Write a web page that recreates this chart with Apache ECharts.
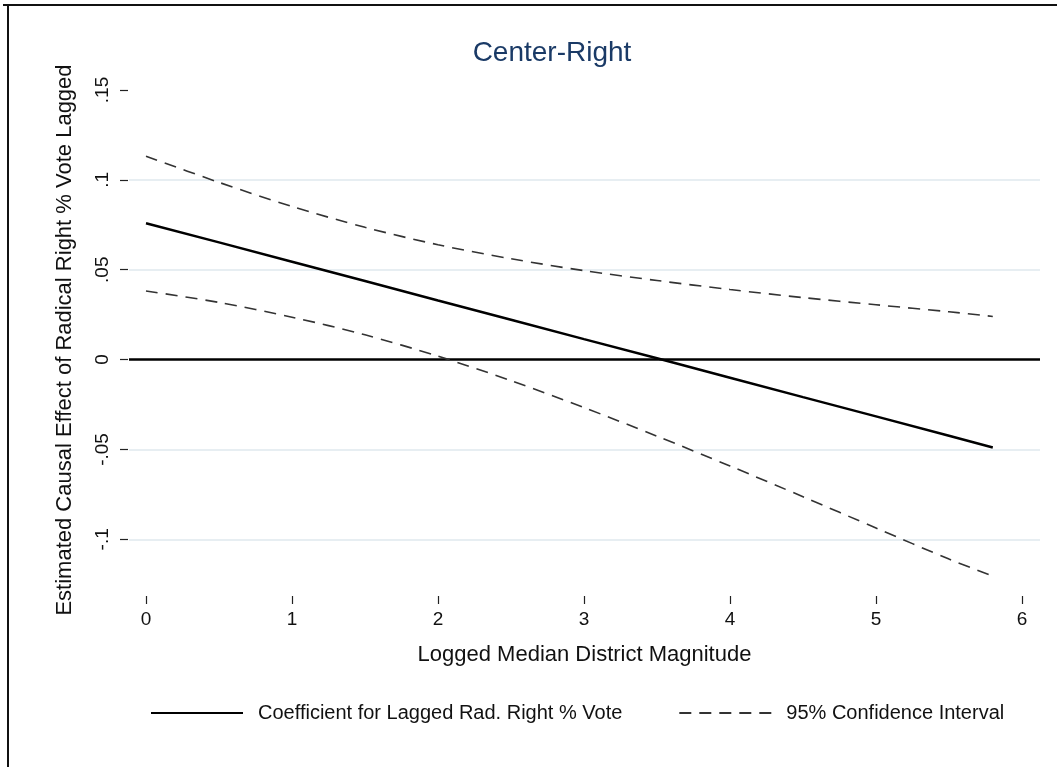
<!DOCTYPE html>
<html>
<head>
<meta charset="utf-8">
<script src="https://cdn.jsdelivr.net/npm/echarts@6/dist/echarts.min.js"></script>
<style>
html,body{margin:0;padding:0;background:#fff;}
#chart{width:1057px;height:767px;}
</style>
</head>
<body>
<div id="chart"></div>
<script>
// ---- data ----
const xValues   = [0, 0.5, 1, 1.5, 2, 2.5, 3, 3.5, 4, 4.5, 5, 5.5, 5.8];
const coef      = [0.0759, 0.0652, 0.0544, 0.0437, 0.0329, 0.0222, 0.0114, 0.0007, -0.0101, -0.0209, -0.0316, -0.0424, -0.0489];
const upperCI   = [0.1132, 0.0986, 0.0852, 0.0736, 0.0639, 0.0561, 0.0495, 0.0440, 0.0390, 0.0345, 0.0305, 0.0266, 0.0240];
const lowerCI   = [0.0382, 0.0318, 0.0236, 0.0138, 0.0019, -0.0117, -0.0267, -0.0426, -0.0592, -0.0763, -0.0937, -0.1110, -0.1205];
const xTicks    = [0, 1, 2, 3, 4, 5, 6];
const yTicks    = [-0.1, -0.05, 0, 0.05, 0.1, 0.15];
const yTickText = ['-.1', '-.05', '0', '.05', '.1', '.15'];
const gridValues = [-0.1, -0.05, 0.05, 0.1];

const FONT = '"Liberation Sans", Arial, Helvetica, sans-serif';
const pairs = (ys) => xValues.map((x, i) => [x, ys[i]]);

const chart = echarts.init(document.getElementById('chart'), null, {renderer: 'canvas'});
chart.setOption({
  animation: false,
  backgroundColor: '#ffffff',
  title: {
    text: 'Center-Right',
    left: 547,
    textAlign: 'center',
    top: 34,
    textStyle: {fontFamily: FONT, fontSize: 28, fontWeight: 'normal', color: '#1a3a66'}
  },
  graphic: [
    {type: 'line', shape: {x1: 3, y1: 5, x2: 1057, y2: 5}, style: {stroke: '#111', lineWidth: 2}, silent: true},
    {type: 'line', shape: {x1: 8, y1: 4, x2: 8, y2: 767}, style: {stroke: '#111', lineWidth: 2}, silent: true}
  ],
  grid: {left: 129, right: 17, top: 90, bottom: 177, containLabel: false},
  legend: {
    left: 145,
    top: 698,
    itemWidth: 92,
    itemHeight: 14,
    itemGap: 56,
    itemStyle: {opacity: 0},
    textStyle: {fontFamily: FONT, fontSize: 20, color: '#111', padding: [0, 0, 0, 10]},
    data: ['Coefficient for Lagged Rad. Right % Vote', '95% Confidence Interval']
  },
  xAxis: {
    type: 'value',
    min: -0.1164,
    max: 6.1233,
    offset: 6,
    axisLine: {show: false, onZero: false},
    axisTick: {show: true, length: 8, customValues: xTicks, lineStyle: {color: '#222', width: 1.2}},
    axisLabel: {customValues: xTicks, margin: 14, fontFamily: FONT, fontSize: 19, color: '#111'},
    splitLine: {show: false},
    name: 'Logged Median District Magnitude',
    nameLocation: 'middle',
    nameGap: 48,
    nameTextStyle: {fontFamily: FONT, fontSize: 22, color: '#111'}
  },
  yAxis: {
    type: 'value',
    min: -0.1282,
    max: 0.15,
    offset: 1,
    axisLine: {show: false, onZero: false},
    axisTick: {show: true, length: 8, customValues: yTicks, lineStyle: {color: '#222', width: 1.2}},
    axisLabel: {
      customValues: yTicks,
      rotate: 90,
      margin: 16,
      fontFamily: FONT, fontSize: 19, color: '#111',
      formatter: (v) => {
        const i = yTicks.findIndex(t => Math.abs(t - v) < 1e-9);
        return i >= 0 ? yTickText[i] : '';
      }
    },
    splitLine: {show: false},
    name: 'Estimated Causal Effect of Radical Right % Vote Lagged',
    nameLocation: 'middle',
    nameRotate: 90,
    nameGap: 52,
    nameTextStyle: {fontFamily: FONT, fontSize: 22, color: '#111'}
  },
  series: [
    {
      name: '__grid',
      type: 'line',
      data: [],
      silent: true,
      markLine: {
        z: 1,
        silent: true,
        symbol: ['none', 'none'],
        label: {show: false},
        data: gridValues.map(v => ({yAxis: v, lineStyle: {color: '#dfe8ee', width: 1.5, type: 'solid'}}))
          .concat([{yAxis: 0, lineStyle: {color: '#000', width: 2.5, type: 'solid'}}])
      }
    },
    {
      name: 'Coefficient for Lagged Rad. Right % Vote',
      type: 'line',
      data: pairs(coef),
      showSymbol: false,
      symbol: 'none',
      lineStyle: {color: '#000', width: 2.5, type: 'solid'},
      itemStyle: {color: '#000'},
      z: 3
    },
    {
      name: '95% Confidence Interval',
      type: 'line',
      data: pairs(upperCI),
      smooth: 0.3,
      showSymbol: false,
      symbol: 'none',
      lineStyle: {color: '#333', width: 1.6, type: [12, 8]},
      itemStyle: {color: '#333'},
      z: 3
    },
    {
      name: '95% Confidence Interval',
      type: 'line',
      data: pairs(lowerCI),
      smooth: 0.3,
      showSymbol: false,
      symbol: 'none',
      lineStyle: {color: '#333', width: 1.6, type: [12, 8]},
      itemStyle: {color: '#333'},
      z: 3
    }
  ]
});
</script>
</body>
</html>
